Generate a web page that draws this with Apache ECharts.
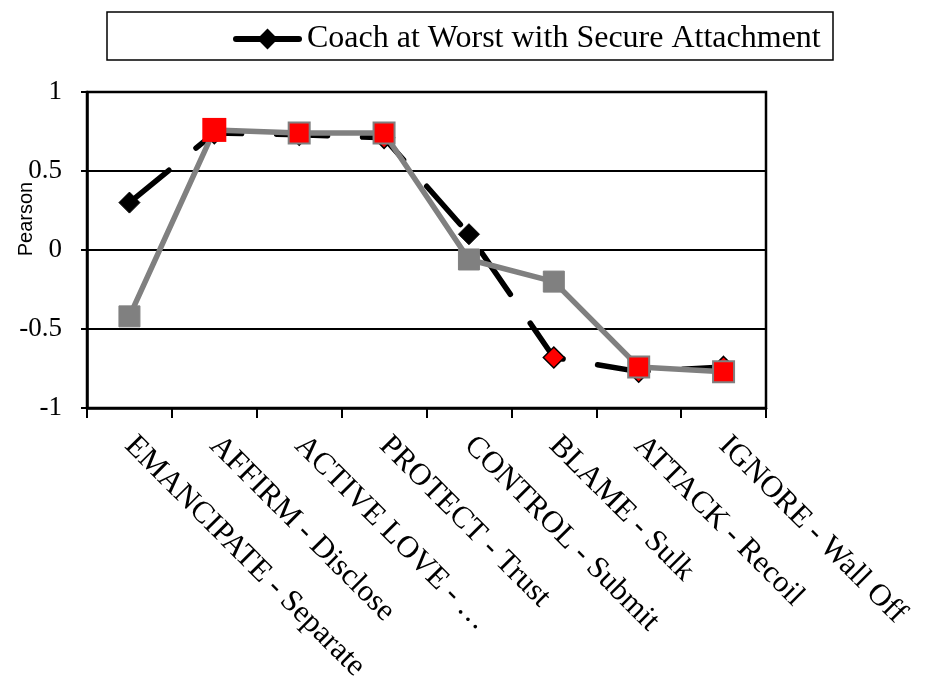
<!DOCTYPE html>
<html>
<head>
<meta charset="utf-8">
<script src="https://cdn.jsdelivr.net/npm/echarts@6/dist/echarts.min.js"></script>
<style>html,body{margin:0;padding:0;background:#fff}#c{width:931px;height:690px}</style>
</head>
<body>
<div id="c"></div>
<script>
const categories = ['EMANCIPATE - Separate','AFFIRM - Disclose','ACTIVE LOVE - \u2026','PROTECT - Trust','CONTROL - Submit','BLAME - Sulk','ATTACK - Recoil','IGNORE - Wall Off'];
const coachWorstValues = [0.30, 0.74, 0.73, 0.71, 0.10, -0.68, -0.77, -0.74];
const coachWorstSignificant = [false, true, true, true, false, true, true, true];
const comparisonValues = [-0.42, 0.76, 0.74, 0.74, -0.06, -0.20, -0.74, -0.77];
const comparisonSignificant = [false, true, true, true, false, false, true, true];
const yTicks = [-1, -0.5, 0, 0.5, 1];

const serif = '"Liberation Serif","Times New Roman",serif';
const chart = echarts.init(document.getElementById('c'), null, {renderer:'canvas'});

const blackData = coachWorstValues.map((v,i)=>({
  value: v,
  itemStyle: coachWorstSignificant[i] ? {color:'#ff0000', borderColor:'#000', borderWidth:1.5} : {color:'#000', borderColor:'#000', borderWidth:1}
}));
const grayData = comparisonValues.map((v,i)=>{
  if (i === 1) return {value:v, symbolSize:24, itemStyle:{color:'#ff0000', borderColor:'#ff0000', borderWidth:0}};
  return {value:v, itemStyle: comparisonSignificant[i] ? {color:'#ff0000', borderColor:'#808080', borderWidth:2} : {color:'#808080', borderColor:'#808080', borderWidth:1}};
});

chart.setOption({
  animation:false,
  backgroundColor:'#fff',
  graphic:[
    {type:'rect', shape:{x:107,y:12,width:726,height:48}, style:{fill:'#fff', stroke:'#000', lineWidth:1.5}, z:-1},
    {type:'text', x:26, y:219, rotation:Math.PI/2, style:{text:'Pearson', font:'20px "Liberation Sans", Arial, sans-serif', fill:'#000', align:'center', verticalAlign:'middle'}}
  ],
  legend:{
    data:['Coach at Worst with Secure Attachment'],
    left:228, top:18, itemWidth:63, itemHeight:26, itemGap:8,
    textStyle:{fontFamily:serif, fontSize:32, color:'#000', padding:[0,0,0,3]},
    lineStyle:{type:'solid', width:6, cap:'round'}
  },
  grid:{left:87, right:165, top:92, bottom:282, show:true, borderColor:'#000', borderWidth:2.5, containLabel:false},
  xAxis:{
    type:'category', data:categories, boundaryGap:true,
    axisLine:{onZero:false, lineStyle:{color:'#000', width:2.5}},
    axisTick:{show:true, length:10, lineStyle:{color:'#000', width:2}},
    axisLabel:{rotate:-45, margin:33, interval:0, fontFamily:serif, fontSize:31, color:'#000'},
    splitLine:{show:false}
  },
  yAxis:{
    type:'value', min:-1, max:1, interval:0.5,
    axisLine:{show:true, onZero:false, lineStyle:{color:'#000', width:2.5}},
    axisTick:{show:true, length:6, lineStyle:{color:'#000', width:2}},
    axisLabel:{fontFamily:serif, fontSize:27, color:'#000', margin:25,
      formatter:(v)=> yTicks.includes(v) ? String(v) : ''},
    splitLine:{show:true, lineStyle:{color:'#000', width:2}}
  },
  series:[
    {
      name:'Coach at Worst with Secure Attachment', type:'line', data:blackData,
      symbol:'diamond', symbolSize:21,
      itemStyle:{color:'#000'},
      lineStyle:{color:'#000', width:5.5, type:[51,35], cap:'round'},
      z:2
    },
    {
      name:'Comparison', type:'line', data:grayData,
      symbol:'rect', symbolSize:21,
      itemStyle:{color:'#808080'},
      lineStyle:{color:'#808080', width:5.5},
      z:3
    }
  ]
});
</script>
</body>
</html>
